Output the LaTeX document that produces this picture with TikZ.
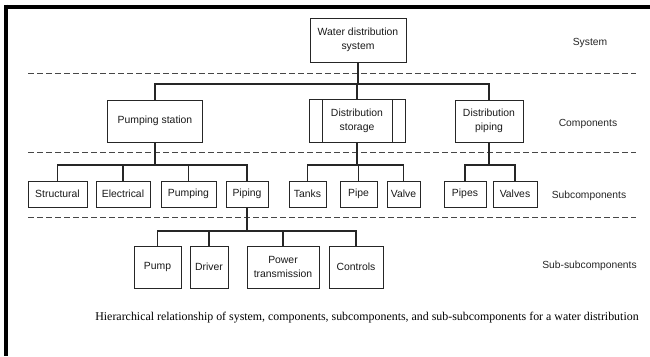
\documentclass[tikz,border=0pt]{standalone}
\usepackage{fontspec}
\setmainfont{Liberation Sans}
\newfontfamily\capfont{Liberation Serif}
\usetikzlibrary{calc}
\begin{document}
\begin{tikzpicture}[x=1pt,y=-1pt,
  box/.style={draw=black!85, line width=1pt, fill=white, minimum height=26pt,
    inner sep=0pt, align=center, font=\fontsize{10.4}{14}\selectfont, text=black!90},
  tall/.style={box, minimum height=42pt},
  conn/.style={draw=black!85, line width=1.4pt},
  sepline/.style={draw=black!72, line width=1pt, dash pattern=on 6pt off 3pt},
  lvl/.style={font=\fontsize{10.3}{12}\selectfont, text=black!85}]
\useasboundingbox (0,0) rectangle (650,356);
\fill[white] (0,0) rectangle (650,356);
% frame
\coordinate (ftl) at (4,6.5); \coordinate (ftr) at (650,6.5);
\coordinate (flt) at (6,4.5); \coordinate (flb) at (6,356);
\draw[line width=4pt] (ftl) -- (ftr);
\draw[line width=4pt] (flt) -- (flb);
% separators
\coordinate (s1l) at (28,73);    \coordinate (s1r) at (636,73);
\coordinate (s2l) at (28,152.5); \coordinate (s2r) at (636,152.5);
\coordinate (s3l) at (28,217.5); \coordinate (s3r) at (636,217.5);
\draw[sepline] (s1l) -- (s1r);
\draw[sepline] (s2l) -- (s2r);
\draw[sepline] (s3l) -- (s3r);
% bus levels
\coordinate (b1) at (0,84);
\coordinate (b2) at (0,165);
\coordinate (b3) at (0,231);
% system
\node[box, minimum width=96pt, minimum height=44pt] (wds) at (358,40) {Water distribution\\system};
% components
\node[tall, minimum width=95pt] (ps) at (155,121) {Pumping station};
\node[tall, minimum width=96pt, minimum height=43pt] (ds) at (357,121) {Distribution\\storage};
\node[tall, minimum width=68pt] (dp) at (489,121) {Distribution\\piping};
\draw[draw=black!85, line width=1pt] ($(ds.north west)!0.14!(ds.north east)$) -- ($(ds.south west)!0.14!(ds.south east)$);
\draw[draw=black!85, line width=1pt] ($(ds.north west)!0.865!(ds.north east)$) -- ($(ds.south west)!0.865!(ds.south east)$);
% subcomponents
\node[box, minimum width=59pt] (st) at (57.5,194) {Structural};
\node[box, minimum width=54pt] (el) at (123,194) {Electrical};
\node[box, minimum width=55pt] (pu) at (188.5,194) {Pumping};
\node[box, minimum width=42pt] (pi) at (247,194) {Piping};
\node[box, minimum width=37pt] (ta) at (307.5,194) {Tanks};
\node[box, minimum width=37pt] (pe) at (358.5,194) {Pipe};
\node[box, minimum width=33pt] (va) at (403.5,194) {Valve};
\node[box, minimum width=42pt] (pp) at (465,194) {Pipes};
\node[box, minimum width=44pt] (vs) at (515,194) {Valves};
% sub-subcomponents
\node[tall, minimum width=47pt] (pm) at (157.5,267) {Pump};
\node[tall, minimum width=38pt] (dr) at (209,267) {Driver};
\node[tall, minimum width=72pt] (pt) at (283,267) {Power\\transmission};
\node[tall, minimum width=54pt] (co) at (356,267) {Controls};
% connectors
\draw[conn] (wds.south) -- (wds.south |- b1);
\foreach \c in {ps,ds,dp} \draw[conn] (wds.south |- b1) -| (\c.north);
\draw[conn] (ps.south) -- (ps.south |- b2);
\foreach \c in {st,el,pu,pi} \draw[conn] (ps.south |- b2) -| (\c.north);
\draw[conn] (ds.south) -- (ds.south |- b2);
\foreach \c in {ta,pe,va} \draw[conn] (ds.south |- b2) -| (\c.north);
\draw[conn] (dp.south) -- (dp.south |- b2);
\foreach \c in {pp,vs} \draw[conn] (dp.south |- b2) -| (\c.north);
\draw[conn] (pi.south) -- (pi.south |- b3);
\foreach \c in {pm,dr,pt,co} \draw[conn] (pi.south |- b3) -| (\c.north);
% level labels
\node[lvl] (lsys) at (590,43) {System};
\node[lvl] (lcom) at (588,124) {Components};
\node[lvl] (lsub) at (589,196) {Subcomponents};
\node[lvl] (lssc) at (589.5,266) {Sub-subcomponents};
% caption
\node[font=\capfont\fontsize{11.9}{13}\selectfont, inner sep=0pt] (cap) at (367,317.5)
  {Hierarchical relationship of system, components, subcomponents, and sub-subcomponents for a water distribution};
\end{tikzpicture}
\end{document}
